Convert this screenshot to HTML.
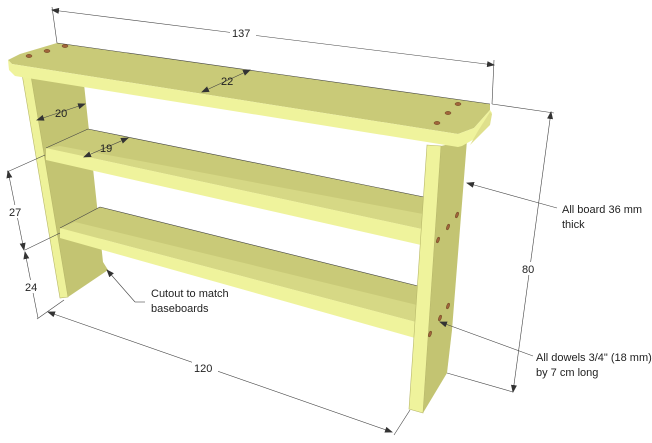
<!DOCTYPE html>
<html><head><meta charset="utf-8"><style>
html,body{margin:0;padding:0;background:#fff;width:652px;height:443px;overflow:hidden}
svg{display:block}
text{font-family:"Liberation Sans","DejaVu Sans",sans-serif;font-size:11px;fill:#222}
</style></head><body>
<svg width="652" height="443" viewBox="0 0 652 443" xmlns="http://www.w3.org/2000/svg">
<defs>
<marker id="a" markerWidth="8" markerHeight="6" refX="7" refY="3" orient="auto" markerUnits="userSpaceOnUse"><path d="M0,0 L8,3 L0,6 z" fill="#333"/></marker>
<marker id="b" markerWidth="8" markerHeight="6" refX="1" refY="3" orient="auto" markerUnits="userSpaceOnUse"><path d="M8,0 L0,3 L8,6 z" fill="#333"/></marker>
</defs>
<g stroke="#555" stroke-width="0.6" fill="none">
<!-- left leg side -->
<polygon points="31,76 84,84 103,262 108,270 68,297 60,298" fill="#c3c472" stroke="none"/>
<!-- left leg front face -->
<polygon points="22,74 31,76 68,297 60,298" fill="#eef29a" stroke="#b8b86a"/>
<!-- middle shelf -->
<polygon points="88,129 424,197 422,229 46,148" fill="#c9ca78" stroke="none"/>
<polygon points="60,146 423,214 422,229 46,148" fill="#d6d885" stroke="none"/>
<polygon points="46,148 422,229 421,245 46,160" fill="#eff39c" stroke="none"/>
<line x1="88" y1="129" x2="424" y2="197" stroke="#444"/>
<line x1="46" y1="148" x2="88" y2="129" stroke="#444"/>
<!-- lower shelf -->
<polygon points="100,207 418,286 416,322 60,228" fill="#c9ca78" stroke="none"/>
<polygon points="75,222 417,305 416,322 60,228" fill="#d6d885" stroke="none"/>
<polygon points="60,228 416,322 415,338 60,238" fill="#eff39c" stroke="none"/>
<line x1="100" y1="207" x2="418" y2="286" stroke="#444"/>
<line x1="60" y1="228" x2="100" y2="207" stroke="#444"/>
<!-- right leg -->
<polygon points="441,146 467,140 452,330 447,373 423,413" fill="#c3c472" stroke="none"/>
<polygon points="427,145 441,146 423,413 409,409" fill="#eff39c" stroke="#b8b86a"/>
<!-- top board -->
<polygon points="8,60 20,54 57,43 490,104 490,110 474,128 458,134 12,64" fill="#c9ca78" stroke="none"/>
<polygon points="8,60 12,64 458,134 474,128 490,110 492,113 476,138 462,146 458,147 15,76 9,70" fill="#eff39c" stroke="none"/>
<polygon points="478,131 490,112 492,114 490,125 470,145" fill="#dfe08c" stroke="none"/>
<line x1="57" y1="43" x2="490" y2="104" stroke="#444"/>
</g>
<!-- dowels -->
<g fill="#a0643a" stroke="#6a4020" stroke-width="0.5">
<ellipse cx="29" cy="56" rx="3" ry="1.6"/><ellipse cx="47" cy="51" rx="3" ry="1.6"/><ellipse cx="65" cy="46" rx="3" ry="1.6"/>
<ellipse cx="437" cy="123" rx="3" ry="1.6"/><ellipse cx="448" cy="113" rx="3" ry="1.6"/><ellipse cx="458" cy="104" rx="3" ry="1.6"/>
<ellipse cx="457" cy="215" rx="1.3" ry="3" transform="rotate(20 457 215)"/><ellipse cx="448" cy="227" rx="1.3" ry="3" transform="rotate(20 448 227)"/><ellipse cx="438" cy="240" rx="1.3" ry="3" transform="rotate(20 438 240)"/>
<ellipse cx="448" cy="306" rx="1.3" ry="3" transform="rotate(20 448 306)"/><ellipse cx="440" cy="318" rx="1.3" ry="3" transform="rotate(20 440 318)"/><ellipse cx="430" cy="334" rx="1.3" ry="3" transform="rotate(20 430 334)"/>
</g>
<!-- dimensions -->
<g stroke="#444" stroke-width="0.6" fill="none">
<line x1="52" y1="7" x2="57" y2="43"/><line x1="494" y1="60" x2="492" y2="104"/>
<line x1="52" y1="10" x2="235" y2="33" marker-start="url(#b)"/><line x1="252" y1="35" x2="494" y2="65" marker-end="url(#a)"/>
<line x1="202" y1="92" x2="250" y2="70" marker-start="url(#b)" marker-end="url(#a)"/>
<line x1="37" y1="120" x2="85" y2="104" marker-start="url(#b)" marker-end="url(#a)"/>
<line x1="84" y1="157" x2="128" y2="138" marker-start="url(#b)" marker-end="url(#a)"/>
<line x1="45" y1="155" x2="7" y2="172"/>
<line x1="60" y1="233" x2="25" y2="250"/>
<line x1="8" y1="171" x2="24" y2="250" marker-start="url(#b)" marker-end="url(#a)"/>
<line x1="25" y1="252" x2="38" y2="318" marker-start="url(#b)"/>
<line x1="64" y1="300" x2="37" y2="319"/>
<line x1="48" y1="312" x2="392" y2="432" marker-start="url(#b)" marker-end="url(#a)"/>
<line x1="410" y1="410" x2="394" y2="435"/>
<line x1="492" y1="104" x2="554" y2="113"/>
<line x1="447" y1="373" x2="513" y2="392"/>
<line x1="551" y1="112" x2="513" y2="392" marker-start="url(#b)" marker-end="url(#a)"/>
<line x1="557" y1="208" x2="467" y2="183" marker-end="url(#a)"/>
<line x1="533" y1="356" x2="440" y2="322" marker-end="url(#a)"/>
<line x1="145" y1="302" x2="135" y2="302"/><line x1="135" y1="302" x2="107" y2="270" marker-end="url(#a)"/>
</g>
<g>
<rect x="230" y="26" width="26" height="12" fill="#fff"/>
<text x="232" y="37">137</text>
<text x="221" y="85">22</text>
<text x="55" y="117">20</text>
<text x="100" y="152">19</text>
<rect x="6" y="205" width="20" height="13" fill="#fff"/>
<text x="9" y="216">27</text>
<rect x="22" y="280" width="20" height="13" fill="#fff"/>
<text x="25" y="291">24</text>
<rect x="192" y="361" width="26" height="13" fill="#fff"/>
<text x="194" y="372">120</text>
<rect x="520" y="262" width="18" height="13" fill="#fff"/>
<text x="522" y="273">80</text>
<text x="151" y="297">Cutout to match</text>
<text x="151" y="312">baseboards</text>
<text x="562" y="213">All board 36 mm</text>
<text x="562" y="228">thick</text>
<text x="536" y="361">All dowels 3/4" (18 mm)</text>
<text x="536" y="376">by 7 cm long</text>
</g>
</svg>
</body></html>
